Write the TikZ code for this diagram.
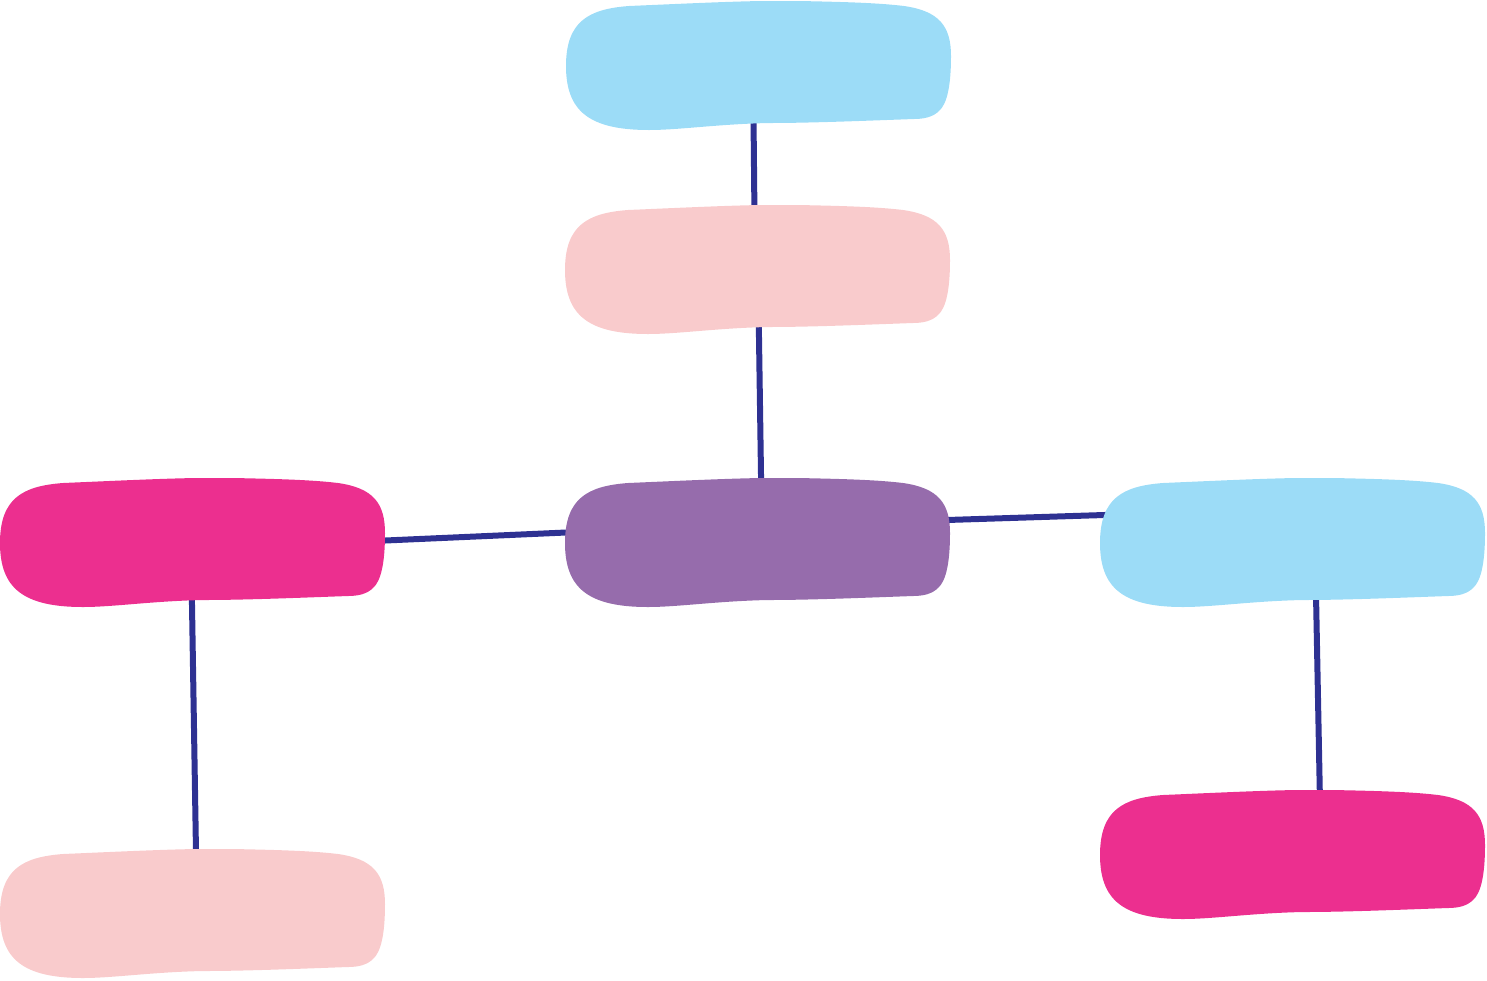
\documentclass[tikz,border=0pt]{standalone}
\usetikzlibrary{backgrounds}

\definecolor{ceu}{HTML}{9CDCF7}
\definecolor{rosa}{HTML}{F9CBCC}
\definecolor{roxo}{HTML}{966CAC}
\definecolor{magenta}{HTML}{EC2F8F}
\definecolor{linha}{HTML}{2E3192}

\begin{document}
\begin{tikzpicture}[
        mancha/.style={minimum width=3.87cm, minimum height=1.3cm, inner sep=0pt,
            path picture={
                \fill[#1, shift={(path picture bounding box.center)}]
                    (-1.93,0) .. controls (-1.93,0.45) and (-1.70,0.57) .. (-1.30,0.60)
                    .. controls (-0.60,0.63) and (0,0.66) .. (0.40,0.65)
                    .. controls (0.90,0.64) and (1.20,0.63) .. (1.45,0.60)
                    .. controls (1.80,0.55) and (1.92,0.40) .. (1.92,0.10)
                    .. controls (1.92,-0.20) and (1.88,-0.38) .. (1.80,-0.45)
                    .. controls (1.74,-0.51) and (1.65,-0.53) .. (1.55,-0.53)
                    .. controls (1.00,-0.55) and (0.50,-0.57) .. (0.10,-0.57)
                    .. controls (-0.40,-0.58) and (-0.80,-0.64) .. (-1.10,-0.64)
                    .. controls (-1.70,-0.64) and (-1.93,-0.45) .. (-1.93,0)
                    -- cycle;
            }},
        liga/.style={draw=linha, line width=0.6mm}
    ]

        \useasboundingbox (0,0) rectangle (14.87,9.80);

        %--------------------------------
        % manchas
        %--------------------------------
        \node[mancha=ceu]     (topo)    at (7.59,9.14) {};
        \node[mancha=rosa]    (meio)    at (7.58,7.10) {};
        \node[mancha=roxo]    (centro)  at (7.58,4.37) {};
        \node[mancha=magenta] (esq)     at (1.93,4.37) {};
        \node[mancha=ceu]     (dir)     at (12.93,4.37) {};
        \node[mancha=rosa]    (esqbaixo) at (1.93,0.66) {};
        \node[mancha=magenta] (dirbaixo) at (12.93,1.25) {};

        %--------------------------------
        % ligações
        %--------------------------------
        \begin{pgfonlayer}{background}
            \draw[liga] ([xshift=-0.06cm]topo.center) -- ([xshift=-0.03cm]meio.center);
            \draw[liga] (meio.center) -- ([xshift=0.04cm]centro.center);
            \draw[liga] ([yshift=-0.06cm]esq.center) -- ([yshift=0.19cm]centro.center);
            \draw[liga] ([yshift=0.17cm]centro.center) -- ([yshift=0.34cm]dir.center);
            \draw[liga] ([xshift=-0.02cm]esq.center) -- ([xshift=0.04cm]esqbaixo.center);
            \draw[liga] ([xshift=0.22cm]dir.center) -- ([xshift=0.28cm]dirbaixo.center);
        \end{pgfonlayer}

    \end{tikzpicture}
\end{document}
